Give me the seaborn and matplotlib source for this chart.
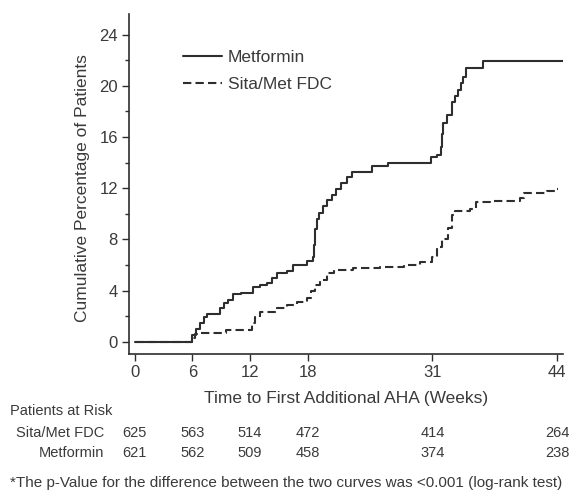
import matplotlib
matplotlib.use("Agg")
import matplotlib.pyplot as plt
import matplotlib.transforms as mtransforms
from matplotlib.ticker import MultipleLocator
import numpy as np
import pandas as pd
import seaborn as sns

# step-function data (weeks, cumulative %)
met_weeks = [0, 6.0, 6.4, 6.8, 7.2, 7.5, 8.9, 9.3, 9.7, 10.2,
             11.1, 12.3, 13.0, 13.8, 14.3, 14.8, 15.8, 16.5, 17.9, 18.6,
             18.7, 18.8, 19.0, 19.2, 19.6, 20.0, 20.5, 21.0, 21.5, 22.1,
             22.6, 24.7, 26.4, 30.8, 31.5, 31.9, 32.0, 32.1, 32.5, 33.0,
             33.4, 33.7, 34.0, 34.2, 34.5, 36.3, 44.6]
met_pct = [0, 0.5, 1.0, 1.5, 1.9, 2.2, 2.6, 3.0, 3.3, 3.7,
           3.8, 4.3, 4.4, 4.6, 5.0, 5.4, 5.5, 6.0, 6.3, 6.6,
           7.6, 8.8, 9.6, 10.1, 10.6, 11.1, 11.5, 11.9, 12.4, 12.9,
           13.3, 13.75, 14.0, 14.4, 14.6, 15.2, 16.2, 17.1, 17.7, 18.75,
           19.2, 19.7, 20.2, 20.7, 21.4, 21.9, 21.9]

fdc_weeks = [0, 6.0, 6.3, 6.6, 9.5, 12.2, 12.5, 13.0, 14.8, 15.8,
             16.9, 17.9, 18.3, 18.8, 19.3, 20.0, 20.7, 22.7, 25.5, 28.0,
             29.7, 31.0, 31.5, 32.0, 32.6, 33.0, 33.4, 34.9, 35.5, 37.0,
             40.1, 40.5, 42.9, 43.8, 44.1]
fdc_pct = [0, 0.3, 0.6, 0.7, 0.9, 1.5, 1.9, 2.3, 2.6, 2.9,
           3.1, 3.4, 4.0, 4.4, 4.8, 5.4, 5.6, 5.75, 5.85, 6.0,
           6.25, 6.6, 7.4, 8.0, 8.9, 9.9, 10.2, 10.4, 10.9, 11.0,
           11.25, 11.6, 11.75, 11.95, 11.95]

risk_weeks = [0, 6, 12, 18, 31, 44]
risk_fdc = [625, 563, 514, 472, 414, 264]
risk_met = [621, 562, 509, 458, 374, 238]

sns.set_style("ticks")
plt.rcParams["font.family"] = ["Liberation Sans", "DejaVu Sans"]
ink = "#2e2e2e"
txt = "#3a3a3a"

fig = plt.figure(figsize=(5.71, 5.04), dpi=100)
ax = fig.add_axes([0.226, 0.298, 0.760, 0.674])

met = pd.DataFrame({"week": met_weeks, "pct": met_pct})
fdc = pd.DataFrame({"week": fdc_weeks, "pct": fdc_pct})

sns.lineplot(data=met, x="week", y="pct", ax=ax, estimator=None,
             drawstyle="steps-post", color=ink, linewidth=1.5,
             label="Metformin")
sns.lineplot(data=fdc, x="week", y="pct", ax=ax, estimator=None,
             drawstyle="steps-post", color=ink, linewidth=1.5,
             label="Sita/Met FDC")
ax.lines[1].set_linestyle((0, (4, 2)))

ax.set_xlim(-0.6, 44.6)
ax.set_ylim(-0.94, 25.6)
ax.set_xticks(risk_weeks)
ax.yaxis.set_major_locator(MultipleLocator(4))
ax.yaxis.set_minor_locator(MultipleLocator(2))
ax.tick_params(axis="both", which="major", length=5, width=1, colors=ink,
               labelcolor=txt, labelsize=12, pad=3)
ax.tick_params(axis="y", which="minor", length=3, width=1, colors=ink)
for side in ["top", "right"]:
    ax.spines[side].set_visible(False)
for side in ["left", "bottom"]:
    ax.spines[side].set_color(ink)
    ax.spines[side].set_linewidth(1.2)

ax.set_xlabel("Time to First Additional AHA (Weeks)", fontsize=12.5,
              color=txt, labelpad=8)
ax.set_ylabel("Cumulative Percentage of Patients", fontsize=12.5,
              color=txt)
ax.yaxis.set_label_coords(-0.09, 0.487)

leg = ax.legend(loc="upper left", bbox_to_anchor=(0.124, 0.896),
                frameon=False, fontsize=12.5, handlelength=2.25,
                handletextpad=0.35, labelspacing=0.72, borderpad=0,
                borderaxespad=0)
for t in leg.get_texts():
    t.set_color(txt)

# patients at risk table
narrow = ["Liberation Sans Narrow", "Liberation Sans", "DejaVu Sans"]
trans = mtransforms.blended_transform_factory(ax.transData, fig.transFigure)
fig.text(10 / 571, 1 - 411 / 504, "Patients at Risk", fontsize=10.5,
         color=txt, va="center", ha="left", family=narrow)
fig.text(104 / 571, 1 - 433 / 504, "Sita/Met FDC", fontsize=10.5,
         color=txt, va="center", ha="right", family=narrow)
fig.text(104 / 571, 1 - 453 / 504, "Metformin", fontsize=10.5,
         color=txt, va="center", ha="right", family=narrow)
for wk, a, b in zip(risk_weeks, risk_fdc, risk_met):
    ax.text(wk, 1 - 433 / 504, str(a), transform=trans, fontsize=10.5,
            color=txt, va="center", ha="center", family=narrow)
    ax.text(wk, 1 - 453 / 504, str(b), transform=trans, fontsize=10.5,
            color=txt, va="center", ha="center", family=narrow)

fig.text(10 / 571, 1 - 483 / 504,
         "*The p-Value for the difference between the two curves was "
         "<0.001 (log-rank test)",
         fontsize=11, color=txt, va="center", ha="left")

fig.savefig("out.png", dpi=100)
